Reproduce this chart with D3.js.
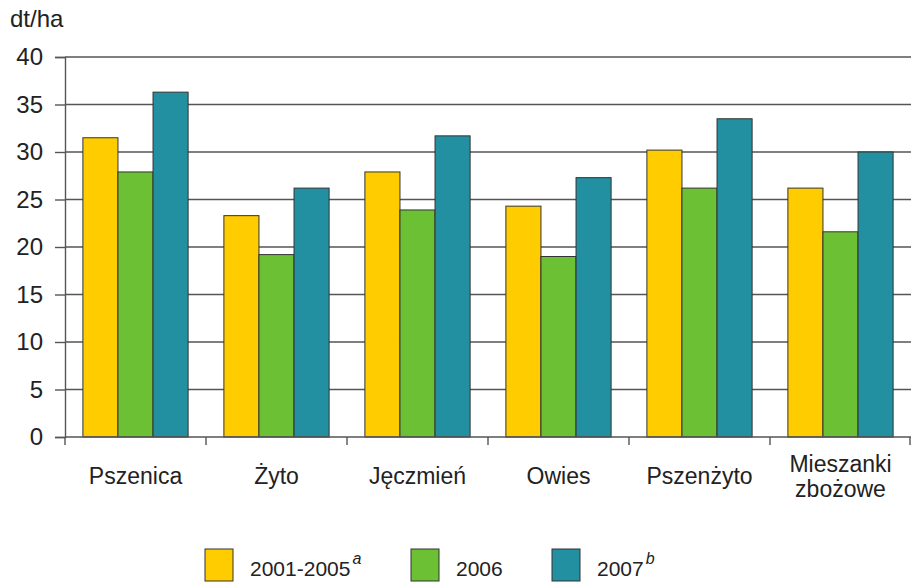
<!DOCTYPE html>
<html>
<head>
<meta charset="utf-8">
<script src="https://cdn.jsdelivr.net/npm/d3@7"></script>
<style>
  body { margin: 0; background: #fff; }
  text { font-family: "Liberation Sans", Arial, sans-serif; fill: #222; }
</style>
</head>
<body>
<script>
var width = 911, height = 584;

var categories = ["Pszenica", "Żyto", "Jęczmień", "Owies", "Pszenżyto", "Mieszanki zbożowe"];
var seriesNames = ["2001-2005", "2006", "2007"];
var seriesSup = ["a", "", "b"];
var v2001_2005 = [31.5, 23.3, 27.9, 24.3, 30.2, 26.2];
var v2006 = [27.9, 19.2, 23.9, 19.0, 26.2, 21.6];
var v2007 = [36.3, 26.2, 31.7, 27.3, 33.5, 30.0];
var yTicks = [0, 5, 10, 15, 20, 25, 30, 35, 40];
var colors = ["#ffcc00", "#6cc033", "#2290a0"];

var series = [v2001_2005, v2006, v2007];

var margin = {left: 65, right: 0, top: 57, bottom: 147};

var svg = d3.select("body").append("svg")
    .attr("width", width)
    .attr("height", height);

var x = d3.scaleBand()
    .domain(categories)
    .range([margin.left, width])
    .paddingInner(0)
    .paddingOuter(0);

var xInner = d3.scaleBand()
    .domain(d3.range(series.length))
    .range([0, x.bandwidth()])
    .paddingOuter(0.51)
    .paddingInner(0);

var y = d3.scaleLinear()
    .domain([0, 40])
    .range([height - margin.bottom, margin.top]);

// grid
svg.append("g").selectAll("line")
    .data(yTicks.filter(function (d) { return d > 0; }))
    .enter().append("line")
    .attr("x1", margin.left).attr("x2", width)
    .attr("y1", function (d) { return y(d); })
    .attr("y2", function (d) { return y(d); })
    .style("stroke", "#555").style("stroke-width", 1.4);

// bars
var groups = svg.append("g").selectAll("g")
    .data(categories)
    .enter().append("g")
    .attr("transform", function (d) { return "translate(" + x(d) + ",0)"; });

groups.selectAll("rect")
    .data(function (d, i) { return series.map(function (s, j) { return {j: j, v: s[i]}; }); })
    .enter().append("rect")
    .attr("x", function (d) { return xInner(d.j); })
    .attr("width", xInner.bandwidth())
    .attr("y", function (d) { return y(d.v); })
    .attr("height", function (d) { return y(0) - y(d.v); })
    .style("fill", function (d) { return colors[d.j]; })
    .style("stroke", "#333").style("stroke-width", 1);

// y axis
var yAxis = svg.append("g").attr("transform", "translate(" + margin.left + ",0)")
    .call(d3.axisLeft(y).tickValues(yTicks).tickSize(10).tickPadding(12));
yAxis.select(".domain").style("stroke", "#555").style("stroke-width", 1.4);
yAxis.selectAll(".tick line").style("stroke", "#555").style("stroke-width", 1.4);
yAxis.selectAll("text").style("font-size", "24px")
    .style("font-family", "'Liberation Sans', Arial, sans-serif").style("fill", "#222");

// x axis
var xAxis = svg.append("g").attr("transform", "translate(0," + y(0) + ")");
xAxis.append("line")
    .attr("x1", margin.left).attr("x2", width)
    .style("stroke", "#555").style("stroke-width", 1.4);
xAxis.selectAll(".xt")
    .data(categories.map(function (d) { return x(d); }).concat([width - 1]))
    .enter().append("line")
    .attr("x1", function (d) { return d; }).attr("x2", function (d) { return d; })
    .attr("y1", 0).attr("y2", 8)
    .style("stroke", "#555").style("stroke-width", 1.4);

var labels = xAxis.selectAll(".xl")
    .data(categories)
    .enter().append("text")
    .attr("text-anchor", "middle")
    .style("font-size", "23px")
    .attr("transform", function (d) { return "translate(" + (x(d) + x.bandwidth() / 2) + ",0)"; });
labels.each(function (d) {
    var words = d.split(" ");
    var t = d3.select(this);
    if (words.length === 1) {
        t.append("tspan").attr("x", 0).attr("y", 47).text(d);
    } else {
        words.forEach(function (w, i) {
            t.append("tspan").attr("x", 0).attr("y", 35 + i * 25).text(w);
        });
    }
});

// unit label
svg.append("text").attr("x", 10).attr("y", 27)
    .style("font-size", "24px").text("dt/ha");

// legend
var legendX = [205, 411, 552];
var legend = svg.append("g").selectAll("g")
    .data(seriesNames)
    .enter().append("g")
    .attr("transform", function (d, i) { return "translate(" + legendX[i] + ",549)"; });
legend.append("rect")
    .attr("width", 28).attr("height", 32)
    .style("fill", function (d, i) { return colors[i]; })
    .style("stroke", "#333").style("stroke-width", 1);
var lt = legend.append("text")
    .attr("x", 45).attr("y", 27)
    .style("font-size", "21px");
lt.append("tspan").text(function (d) { return d; });
lt.append("tspan")
    .attr("dy", -12).attr("dx", 2)
    .style("font-size", "16px").style("font-style", "italic")
    .text(function (d, i) { return seriesSup[i]; });
</script>
</body>
</html>
